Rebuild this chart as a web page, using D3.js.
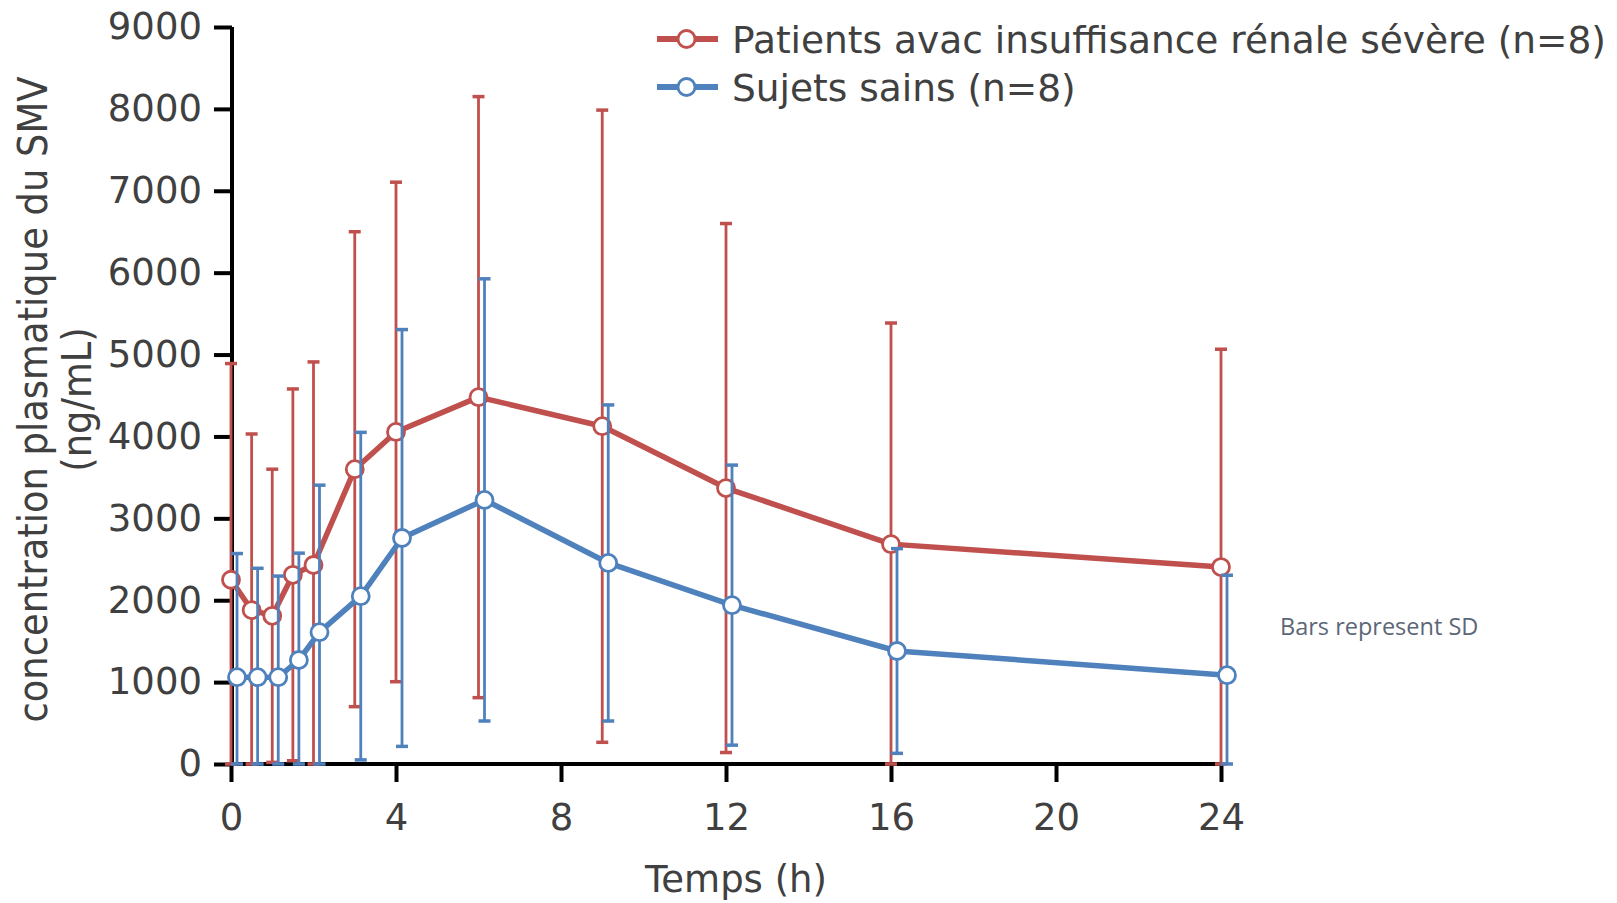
<!DOCTYPE html>
<html lang="fr">
<head>
<meta charset="UTF-8">
<title>Concentration plasmatique du SMV</title>
<script src="https://d3js.org/d3.v7.min.js"></script>
<style>
    body { margin: 0; background: #fff; }
    svg text { font-family: "DejaVu Sans", Verdana, sans-serif; fill: #404040; }
</style>
</head>
<body>
<div class="chart"></div>
<script>
    // temps de prélèvement (h)
    var times = [0, 0.5, 1, 1.5, 2, 3, 4, 6, 9, 12, 16, 24];

    // patients avec insuffisance rénale sévère : moyenne et SD (ng/mL)
    var renalMean = [2250, 1880, 1810, 2310, 2430, 3600, 4055, 4480, 4125, 3370, 2685, 2405];
    var renalSD   = [2640, 2150, 1790, 2270, 2480, 2900, 3050, 3670, 3860, 3230, 2700, 2660];

    // sujets sains : moyenne et SD (ng/mL)
    var healthyMean = [1060, 1060, 1060, 1270, 1610, 2050, 2760, 3225, 2455, 1940, 1380, 1085];
    var healthySD   = [1510, 1330, 1235, 1305, 1795, 2000, 2545, 2700, 1930, 1710, 1250, 1220];

    var xTicks = [0, 4, 8, 12, 16, 20, 24];
    var yTicks = [0, 1000, 2000, 3000, 4000, 5000, 6000, 7000, 8000, 9000];

    var seriesNames = ["Patients avac insuffisance rénale sévère (n=8)", "Sujets sains (n=8)"];

    var width = 1617, height = 903;
    var margin = {top: 27, right: 396, bottom: 139, left: 231};

    var svg = d3.select(".chart").append("svg")
        .attr("width", width)
        .attr("height", height);

    var x = d3.scaleLinear().domain([0, 24]).range([margin.left, width - margin.right]);
    var y = d3.scaleLinear().domain([0, 9000]).range([height - margin.bottom, margin.top]);

    var series = [
        {name: seriesNames[0], color: "#C0504D", mean: renalMean, sd: renalSD, dodge: 0},
        {name: seriesNames[1], color: "#4F81BD", mean: healthyMean, sd: healthySD, dodge: 6}
    ];

    // axes
    var xAxis = svg.append("g")
        .attr("transform", "translate(0," + y(0) + ")")
        .call(d3.axisBottom(x).tickValues(xTicks).tickFormat(d3.format("d")).tickSize(18).tickPadding(22));
    var yAxis = svg.append("g")
        .attr("transform", "translate(" + (x(0) + 1) + ",0)")
        .call(d3.axisLeft(y).tickValues(yTicks).tickFormat(d3.format("d")).tickSize(18).tickPadding(12));

    [xAxis, yAxis].forEach(function (ax) {
        ax.select(".domain").attr("stroke", "#000").attr("stroke-width", 4);
        ax.selectAll(".tick line").attr("stroke", "#000").attr("stroke-width", 4);
        ax.selectAll(".tick text")
            .attr("fill", "#404040")
            .style("font-family", "'DejaVu Sans', Verdana, sans-serif")
            .style("font-size", "37px");
    });
    xAxis.select(".domain").attr("d", "M" + x(0) + ",0H" + x(24));
    yAxis.select(".domain").attr("d", "M0," + y(0) + "V" + y(9000));

    // séries
    series.forEach(function (s) {
        var pts = times.map(function (t, i) {
            return {t: t, m: s.mean[i], sd: s.sd[i]};
        });
        var g = svg.append("g");

        var bars = g.append("g").selectAll("g").data(pts).enter().append("g");
        bars.append("line")
            .attr("x1", function (d) { return x(d.t) + s.dodge; })
            .attr("x2", function (d) { return x(d.t) + s.dodge; })
            .attr("y1", function (d) { return y(d.m + d.sd); })
            .attr("y2", function (d) { return y(Math.max(0, d.m - d.sd)); })
            .attr("stroke", s.color).attr("stroke-width", 2.8);
        bars.append("line")
            .attr("x1", function (d) { return x(d.t) + s.dodge - 6; })
            .attr("x2", function (d) { return x(d.t) + s.dodge + 6; })
            .attr("y1", function (d) { return y(d.m + d.sd); })
            .attr("y2", function (d) { return y(d.m + d.sd); })
            .attr("stroke", s.color).attr("stroke-width", 3.5);
        bars.append("line")
            .attr("x1", function (d) { return x(d.t) + s.dodge - 6; })
            .attr("x2", function (d) { return x(d.t) + s.dodge + 6; })
            .attr("y1", function (d) { return y(Math.max(0, d.m - d.sd)); })
            .attr("y2", function (d) { return y(Math.max(0, d.m - d.sd)); })
            .attr("stroke", s.color).attr("stroke-width", 3.5);

        var line = d3.line()
            .x(function (d) { return x(d.t) + s.dodge; })
            .y(function (d) { return y(d.m); });
        g.append("path")
            .datum(pts)
            .attr("d", line)
            .attr("fill", "none")
            .attr("stroke", s.color)
            .attr("stroke-width", 5.5)
            .attr("stroke-linejoin", "round");

        g.append("g").selectAll("circle").data(pts).enter().append("circle")
            .attr("cx", function (d) { return x(d.t) + s.dodge; })
            .attr("cy", function (d) { return y(d.m); })
            .attr("r", 8.5)
            .attr("fill", "#fff")
            .attr("stroke", s.color)
            .attr("stroke-width", 2.8);
    });

    // légende
    var legend = svg.append("g").selectAll("g").data(series).enter().append("g")
        .attr("transform", function (d, i) { return "translate(657," + (39 + i * 48) + ")"; });
    legend.append("line")
        .attr("x1", 0).attr("x2", 61)
        .attr("stroke", function (d) { return d.color; })
        .attr("stroke-width", 6);
    legend.append("circle")
        .attr("cx", 29.5).attr("r", 8.5)
        .attr("fill", "#fff")
        .attr("stroke", function (d) { return d.color; })
        .attr("stroke-width", 2.8);
    legend.append("text")
        .attr("x", 75).attr("y", 14)
        .style("font-size", "37.5px")
        .text(function (d) { return d.name; });

    // titres des axes
    svg.append("text")
        .attr("x", 736).attr("y", 892)
        .attr("text-anchor", "middle")
        .style("font-size", "37px")
        .text("Temps (h)");

    var yTitle = svg.append("text")
        .attr("transform", "translate(47," + ((y(0) + y(9000)) / 2 + 4) + ") rotate(-90)")
        .attr("text-anchor", "middle")
        .style("font-family", "'DejaVu Sans Condensed', 'DejaVu Sans', sans-serif")
        .style("font-size", "41px");
    yTitle.append("tspan").attr("x", 0).attr("dy", 0).text("concentration plasmatique du SMV");
    yTitle.append("tspan").attr("x", 0).attr("dy", 44).text("(ng/mL)");

    svg.append("text")
        .attr("x", 1280).attr("y", 635)
        .style("font-family", "'Open Sans', sans-serif")
        .style("font-size", "23.5px")
        .style("fill", "#5B6777")
        .text("Bars represent SD");
</script>
</body>
</html>
